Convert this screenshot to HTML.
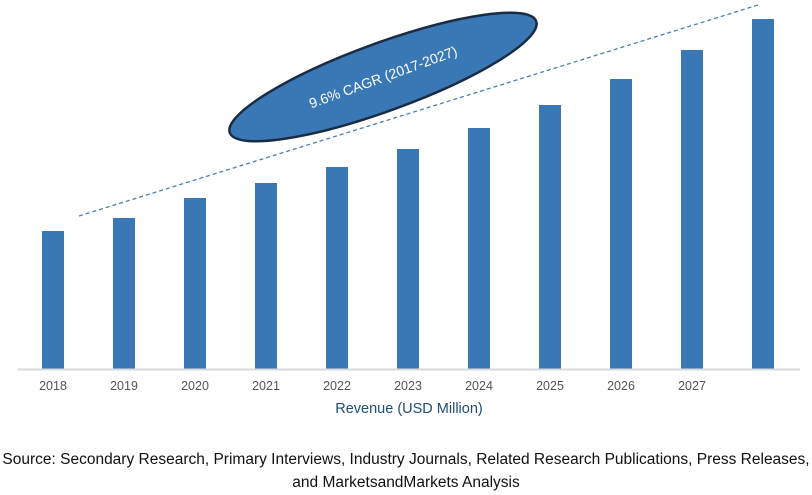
<!DOCTYPE html>
<html><head><meta charset="utf-8"><style>
body{margin:0;background:#fff;width:812px;height:495px;overflow:hidden;font-family:"Liberation Sans",sans-serif}
svg{position:absolute;left:0;top:0}
.src{position:absolute;left:0;width:812px;text-align:center;font-size:15.5px;color:#111;line-height:23px}
</style></head><body>
<svg id="chart" width="812" height="420"></svg>
<div class="src" style="top:448px">Source: Secondary Research, Primary Interviews, Industry Journals, Related Research Publications, Press Releases,<br>and MarketsandMarkets Analysis</div>
<script>
const categories=["2018","2019","2020","2021","2022","2023","2024","2025","2026","2027",""];
const values=[138,151,171,186,202,220,241,264,290,319,350];
const NS="http://www.w3.org/2000/svg";
const svg=document.getElementById('chart');
const baseY=369,x0=42,step=71,bw=22;
function xPos(i){return x0+i*step;}
function yPos(v){return baseY-v;}
function mk(t,a){const e=document.createElementNS(NS,t);for(const k in a)e.setAttribute(k,a[k]);svg.appendChild(e);return e;}
categories.forEach((c,i)=>{
 const r=mk('rect',{x:xPos(i),y:yPos(values[i]),width:bw,height:baseY-yPos(values[i]),fill:'#3a78b5'});
 
 
 if(c){const t=mk('text',{x:xPos(i)+bw/2,y:390,'text-anchor':'middle','font-size':12.5,fill:'#555'});t.textContent=c;
 
 }
});
const ax=mk('line',{x1:18,y1:baseY+0.5,x2:800,y2:baseY+0.5,stroke:'#d9d9d9','stroke-width':2});


const tl=mk('line',{x1:79,y1:216,x2:758,y2:5,stroke:'#4a7fb8','stroke-width':1.3,'stroke-dasharray':'4,3'});


const g=document.createElementNS(NS,'g');g.setAttribute('transform','translate(383,77) rotate(-20)');svg.appendChild(g);


const el=document.createElementNS(NS,'ellipse');
['cx','cy'].forEach(k=>el.setAttribute(k,0));el.setAttribute('rx',163);el.setAttribute('ry',34);el.setAttribute('fill','#3a78b5');el.setAttribute('stroke','#1a2c44');el.setAttribute('stroke-width',2.5);g.appendChild(el);
const tt=document.createElementNS(NS,'text');tt.setAttribute('x',0);tt.setAttribute('y',5);tt.setAttribute('text-anchor','middle');tt.setAttribute('font-size',14);tt.setAttribute('fill','#fff');tt.textContent='9.6% CAGR (2017-2027)';g.appendChild(tt);
const xt=mk('text',{x:409,y:413,'text-anchor':'middle','font-size':14.5,fill:'#1f4e79'});xt.textContent='Revenue (USD Million)';


</script>
</body></html>
